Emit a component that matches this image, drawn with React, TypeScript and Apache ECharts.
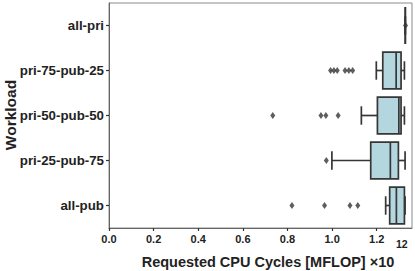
import React, { useEffect, useRef } from "react";
import * as echarts from "echarts";

const categories = ["all-pri", "pri-75-pub-25", "pri-50-pub-50", "pri-25-pub-75", "all-pub"];
// values in units of 1e12 MFLOP
const whiskerLow = [1.328, 1.198, 1.131, 0.999, 1.24];
const quartile1 = [1.328, 1.227, 1.203, 1.173, 1.258];
const medians = [1.328, 1.287, 1.299, 1.261, 1.288];
const quartile3 = [1.328, 1.309, 1.309, 1.297, 1.324];
const whiskerHigh = [1.328, 1.324, 1.324, 1.327, 1.327];
const outliers: number[][] = [
  [1.329],
  [0.993, 1.008, 1.023, 1.058, 1.075, 1.092],
  [0.734, 0.95, 0.972, 1.027],
  [0.974],
  [0.82, 0.966, 1.08, 1.115],
];
const xTicks = [0, 0.2, 0.4, 0.6, 0.8, 1.0, 1.2];

const LINE = "#363636";
const FILL = "#b4d6df";
const FONT = "'Liberation Sans', Arial, sans-serif";

export default function App() {
  const ref = useRef<HTMLDivElement>(null);
  useEffect(() => {
    if (!ref.current) return;
    const chart = echarts.init(ref.current, null, { renderer: "svg" });
    const boxData = categories.map((_, i) => [
      i,
      whiskerLow[i],
      quartile1[i],
      medians[i],
      quartile3[i],
      whiskerHigh[i],
    ]);
    const outlierData: any[] = [];
    outliers.forEach((arr, i) => arr.forEach((v) => outlierData.push([v, i])));

    const renderItem = (params: any, api: any) => {
      const cat = api.value(0);
      const lo = api.coord([api.value(1), cat]);
      const a = api.coord([api.value(2), cat]);
      const m = api.coord([api.value(3), cat]);
      const b = api.coord([api.value(4), cat]);
      const hi = api.coord([api.value(5), cat]);
      const band = api.size([0, 1])[1];
      const h = band * 0.82;
      const y = lo[1];
      const ls = { stroke: LINE, lineWidth: 1.7, fill: null };
      return {
        type: "group",
        children: [
          { type: "line", shape: { x1: lo[0], y1: y, x2: a[0], y2: y }, style: ls },
          { type: "line", shape: { x1: b[0], y1: y, x2: hi[0], y2: y }, style: ls },
          { type: "line", shape: { x1: lo[0], y1: y - h / 4, x2: lo[0], y2: y + h / 4 }, style: ls },
          { type: "line", shape: { x1: hi[0], y1: y - h / 4, x2: hi[0], y2: y + h / 4 }, style: ls },
          {
            type: "rect",
            shape: { x: a[0], y: y - h / 2, width: b[0] - a[0], height: h },
            style: { fill: FILL, stroke: LINE, lineWidth: 1.7 },
          },
          { type: "line", shape: { x1: m[0], y1: y - h / 2, x2: m[0], y2: y + h / 2 }, style: ls },
        ],
      };
    };

    chart.setOption({
      animation: false,
      grid: {
        left: 109,
        top: 3,
        right: 3,
        bottom: 43,
        show: true,
        borderColor: "#8a8a8a",
        borderWidth: 1,
      },
      xAxis: {
        type: "value",
        min: 0,
        max: 1.358,
        interval: 0.2,
        splitLine: { show: false },
        axisLine: { show: true, lineStyle: { color: "#666", width: 1 } },
        axisTick: { show: true, length: 3, customValues: xTicks, lineStyle: { color: "#333", width: 1.2 } },
        axisLabel: {
          customValues: xTicks,
          formatter: (v: number) => v.toFixed(1),
          color: "#222",
          fontWeight: "bold",
          fontSize: 11,
          fontFamily: FONT,
          margin: 5,
        },
      },
      yAxis: {
        type: "category",
        data: categories,
        inverse: true,
        axisLine: { show: true, lineStyle: { color: "#666", width: 1 } },
        axisTick: { show: true, length: 3, alignWithLabel: true, lineStyle: { color: "#333", width: 1.2 } },
        axisLabel: {
          color: "#222",
          fontWeight: "bold",
          fontSize: 13.3,
          fontFamily: FONT,
          margin: 5,
        },
        splitLine: { show: false },
      },
      series: [
        {
          type: "custom",
          renderItem,
          data: boxData,
          encode: { x: [1, 2, 3, 4, 5], y: 0 },
          z: 2,
        },
        {
          type: "scatter",
          data: outlierData,
          symbol: "diamond",
          symbolSize: [5, 7],
          itemStyle: { color: LINE },
          z: 3,
        },
      ],
      graphic: [
        {
          type: "text",
          x: 2,
          y: 115,
          rotation: Math.PI / 2,
          style: {
            text: "Workload",
            font: `bold 15.5px ${FONT}`,
            fill: "#222",
            textAlign: "center",
            textVerticalAlign: "top",
          },
        },
        {
          type: "text",
          x: 268,
          y: 262,
          style: {
            text: "Requested CPU Cycles [MFLOP] ×10",
            font: `bold 14.5px ${FONT}`,
            fill: "#222",
            textAlign: "center",
            textVerticalAlign: "middle",
          },
        },
        {
          type: "text",
          x: 396,
          y: 244,
          style: {
            text: "12",
            font: `bold 10.5px ${FONT}`,
            fill: "#222",
            textAlign: "left",
            textVerticalAlign: "middle",
          },
        },
      ],
    });
    return () => chart.dispose();
  }, []);
  return <div ref={ref} style={{ width: 415, height: 271, position: "absolute", left: 0, top: 0 }} />;
}
